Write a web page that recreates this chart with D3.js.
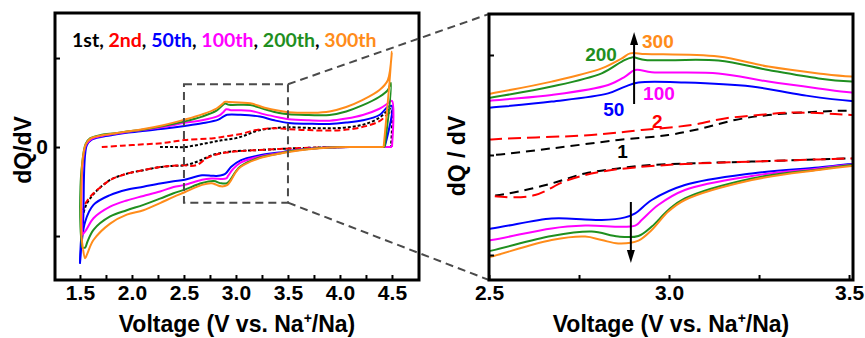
<!DOCTYPE html>
<html>
<head>
<meta charset="utf-8">
<script src="https://cdn.jsdelivr.net/npm/d3@7/dist/d3.min.js"></script>
<style>
  body { margin: 0; background: #fff; }
  text { font-family: "Liberation Sans", Arial, sans-serif; font-weight: bold; }
</style>
</head>
<body>
<svg id="chart" width="865" height="338"></svg>
<script>
// Cycle names and colours
const cycles = ["1st", "2nd", "50th", "100th", "200th", "300th"];
const cycleColors = ["#000000", "#ff0000", "#0000ff", "#ff00ff", "#1f8f1f", "#ff8c1a"];
const zoomLabels = ["1", "2", "50", "100", "200", "300"];

// [voltage, dQ/dV]; charge = upper branch, discharge = lower branch
const charge1 = [[2.27,0.0],[2.4,0.0],[2.507,0.0],[2.674,0.033],[2.859,0.075],[2.998,0.10],[3.091,0.133],[3.183,0.175],[3.276,0.20],[3.415,0.217],[3.507,0.222],[3.7,0.215],[3.9,0.21],[4.1,0.225],[4.25,0.26],[4.38,0.33],[4.45,0.40],[4.49,0.43],[4.49,0.0]];
const discharge1 = [[4.49,0.0],[4.1,0.0],[3.8,-0.005],[3.507,-0.017],[3.23,-0.033],[2.952,-0.05],[2.859,-0.067],[2.767,-0.092],[2.674,-0.142],[2.582,-0.183],[2.507,-0.205],[2.4,-0.212],[2.27,-0.225],[2.11,-0.26],[1.95,-0.30],[1.79,-0.37],[1.63,-0.53],[1.56,-0.65],[1.53,-0.76]];

const charge2 = [[1.71,0.0],[1.9,0.015],[2.11,0.03],[2.3,0.045],[2.507,0.078],[2.785,0.10],[2.924,0.125],[3.063,0.15],[3.155,0.183],[3.248,0.20],[3.341,0.212],[3.433,0.208],[3.507,0.20],[3.7,0.19],[3.9,0.185],[4.1,0.20],[4.25,0.235],[4.38,0.29],[4.45,0.36],[4.49,0.40]];
const discharge2 = [[4.49,0.0],[4.1,0.0],[3.8,-0.005],[3.507,-0.017],[3.415,-0.022],[3.23,-0.033],[3.044,-0.045],[2.906,-0.062],[2.813,-0.083],[2.72,-0.125],[2.628,-0.20],[2.563,-0.212],[2.507,-0.205],[2.4,-0.21],[2.27,-0.225],[2.11,-0.26],[1.95,-0.30],[1.79,-0.37],[1.71,-0.44],[1.63,-0.52],[1.56,-0.62],[1.53,-0.71]];

const charge50 = [[1.50,-1.31],[1.51,-1.05],[1.53,-0.84],[1.565,0.02],[1.61,0.08],[1.71,0.115],[1.84,0.14],[1.95,0.16],[2.1,0.18],[2.3,0.205],[2.507,0.237],[2.674,0.267],[2.831,0.308],[2.878,0.342],[2.915,0.362],[3.044,0.362],[3.23,0.342],[3.369,0.30],[3.507,0.27],[3.7,0.262],[3.9,0.26],[4.06,0.275],[4.22,0.30],[4.38,0.36],[4.46,0.45],[4.50,0.46],[4.43,0.0]];
const discharge50 = [[4.43,0.0],[4.1,0.0],[3.9,-0.005],[3.7,-0.02],[3.507,-0.045],[3.415,-0.062],[3.23,-0.092],[3.044,-0.15],[2.952,-0.225],[2.906,-0.292],[2.878,-0.312],[2.813,-0.325],[2.767,-0.322],[2.674,-0.317],[2.507,-0.367],[2.4,-0.385],[2.27,-0.41],[2.11,-0.446],[1.95,-0.48],[1.79,-0.54],[1.63,-0.65],[1.55,-0.84],[1.50,-1.31]];

const charge100 = [[1.52,-0.99],[1.515,-0.5],[1.525,-0.2],[1.56,0.03],[1.61,0.09],[1.71,0.125],[1.84,0.15],[1.95,0.17],[2.1,0.19],[2.3,0.225],[2.507,0.272],[2.674,0.30],[2.831,0.35],[2.878,0.392],[2.906,0.425],[2.952,0.414],[3.137,0.408],[3.276,0.367],[3.415,0.333],[3.507,0.313],[3.7,0.30],[3.9,0.296],[4.06,0.32],[4.22,0.36],[4.38,0.43],[4.46,0.49],[4.50,0.52],[4.50,0.0]];
const discharge100 = [[4.50,0.0],[4.1,0.0],[3.9,-0.005],[3.7,-0.02],[3.507,-0.047],[3.415,-0.067],[3.23,-0.105],[3.044,-0.175],[2.97,-0.25],[2.924,-0.325],[2.906,-0.353],[2.767,-0.353],[2.674,-0.367],[2.507,-0.425],[2.4,-0.45],[2.27,-0.50],[2.11,-0.55],[1.95,-0.60],[1.79,-0.67],[1.63,-0.80],[1.56,-0.93],[1.52,-0.99]];

const charge200 = [[1.52,-1.13],[1.505,-0.9],[1.505,-0.45],[1.52,-0.2],[1.555,0.035],[1.60,0.10],[1.70,0.135],[1.84,0.155],[1.95,0.175],[2.1,0.195],[2.3,0.235],[2.507,0.288],[2.674,0.342],[2.813,0.408],[2.869,0.467],[2.897,0.488],[2.934,0.475],[3.137,0.472],[3.276,0.425],[3.415,0.383],[3.507,0.367],[3.7,0.36],[3.9,0.36],[4.06,0.40],[4.22,0.47],[4.38,0.565],[4.46,0.64],[4.49,0.72],[4.43,0.0]];
const discharge200 = [[4.43,0.0],[4.1,0.0],[3.9,-0.005],[3.7,-0.022],[3.507,-0.05],[3.415,-0.072],[3.23,-0.117],[3.044,-0.217],[2.998,-0.275],[2.952,-0.358],[2.915,-0.405],[2.859,-0.408],[2.785,-0.383],[2.674,-0.405],[2.507,-0.478],[2.4,-0.52],[2.27,-0.58],[2.11,-0.65],[1.95,-0.71],[1.79,-0.78],[1.63,-0.93],[1.57,-1.07],[1.55,-1.13],[1.52,-1.13]];

const charge300 = [[1.53,-1.15],[1.515,-1.0],[1.515,-0.35],[1.525,-0.15],[1.555,0.03],[1.60,0.095],[1.70,0.13],[1.84,0.155],[1.95,0.175],[2.1,0.2],[2.3,0.245],[2.507,0.308],[2.674,0.367],[2.813,0.433],[2.869,0.483],[2.892,0.508],[2.934,0.505],[3.137,0.492],[3.276,0.442],[3.415,0.408],[3.507,0.392],[3.74,0.385],[3.9,0.40],[4.06,0.45],[4.22,0.53],[4.38,0.64],[4.46,0.75],[4.50,1.07],[4.42,0.0]];
const discharge300 = [[4.42,0.0],[4.1,0.0],[3.9,-0.005],[3.7,-0.025],[3.507,-0.055],[3.415,-0.075],[3.23,-0.125],[3.044,-0.225],[2.998,-0.283],[2.952,-0.375],[2.915,-0.428],[2.859,-0.442],[2.813,-0.425],[2.767,-0.408],[2.674,-0.425],[2.507,-0.508],[2.4,-0.56],[2.27,-0.63],[2.11,-0.71],[1.95,-0.76],[1.79,-0.86],[1.63,-1.045],[1.57,-1.20],[1.55,-1.25],[1.53,-1.15]];

// where the cycle numbers sit in the zoomed panel [voltage, dQ/dV]
const zoomLabelPos = [[2.856,-0.015],[2.953,0.135],[2.817,0.195],[2.928,0.275],[2.767,0.47],[2.925,0.535]];

// Tick values
const leftXTicks = d3.range(1.5, 4.51, 0.25);
const leftYTicks = [-1, 0, 1];
const rightXTicks = [2.5, 2.75, 3.0, 3.25, 3.5];
const rightYTicks = [-0.5, 0, 0.5];

// Series list built from the arrays above
const branches = [
  [charge1, discharge1], [charge2, discharge2], [charge50, discharge50],
  [charge100, discharge100], [charge200, discharge200], [charge300, discharge300]
];

const svg = d3.select("#chart");

// Scales: left = full window, right = zoomed window
const xLeft = d3.scaleLinear().domain([1.26, 4.76]).range([55, 419]);
const yLeft = d3.scaleLinear().domain([-1.494, 1.506]).range([280, 13]);
const xRight = d3.scaleLinear().domain([2.5, 3.511]).range([489, 853]);
const yRight = d3.scaleLinear().domain([-0.625, 0.705]).range([280, 14]);

// Draws all curves, axes and frame of one panel
function drawPanel(name, x, y, dashes, xTicks, yTicks, xFmt, yFmt) {
  const [x0, x1] = x.range();
  const [y0, y1] = y.range();

  svg.append("clipPath").attr("id", "clip-" + name)
    .append("rect")
    .attr("x", x0).attr("y", y1)
    .attr("width", x1 - x0).attr("height", y0 - y1);

  const line = d3.line()
    .x(d => x(d[0]))
    .y(d => y(d[1]))
    .curve(d3.curveCatmullRom.alpha(0.5));

  const g = svg.append("g").attr("clip-path", `url(#clip-${name})`);
  branches.forEach((pair, i) => {
    pair.forEach(pts => {
      g.append("path")
        .attr("d", line(pts))
        .attr("fill", "none")
        .attr("stroke", cycleColors[i])
        .attr("stroke-width", 2)
        .attr("stroke-dasharray", dashes[i]);
    });
  });

  // axes with inward ticks
  const xAxis = svg.append("g")
    .attr("transform", `translate(0,${y0})`)
    .call(d3.axisBottom(x).tickValues(xTicks).tickSize(-5).tickPadding(5).tickFormat(xFmt));
  const yAxis = svg.append("g")
    .attr("transform", `translate(${x0},0)`)
    .call(d3.axisLeft(y).tickValues(yTicks).tickSize(-5).tickPadding(7).tickFormat(yFmt));
  [xAxis, yAxis].forEach(a => {
    a.select(".domain").remove();
    a.selectAll("line").attr("stroke", "#000").attr("stroke-width", 2);
    a.selectAll("text")
      .attr("fill", "#000")
      .style("font-size", "21px")
      .style("font-family", "'Liberation Sans', Arial, sans-serif")
      .style("font-weight", "bold");
  });

  // frame
  svg.append("rect")
    .attr("x", x0).attr("y", y1)
    .attr("width", x1 - x0).attr("height", y0 - y1)
    .attr("fill", "none")
    .attr("stroke", "#000")
    .attr("stroke-width", 3);
}

const halfFmt = d => (Math.abs(d * 2 - Math.round(d * 2)) < 1e-6 ? d3.format(".1f")(d) : "");

drawPanel("left", xLeft, yLeft, ["3,2", "6,3", null, null, null, null],
  leftXTicks, leftYTicks, halfFmt, d => (d === 0 ? "0" : ""));

// zoom window + connector lines
const zoomBox = {
  x0: xLeft(xRight.domain()[0]), x1: xLeft(xRight.domain()[1] - 0.011),
  y0: yLeft(yRight.domain()[1]), y1: yLeft(yRight.domain()[0])
};
const grey = "#4a4a4a";
svg.append("rect")
  .attr("x", zoomBox.x0).attr("y", zoomBox.y0)
  .attr("width", zoomBox.x1 - zoomBox.x0).attr("height", zoomBox.y1 - zoomBox.y0)
  .attr("fill", "none").attr("stroke", grey).attr("stroke-width", 2)
  .attr("stroke-dasharray", "8,5");
svg.append("line")
  .attr("x1", zoomBox.x1).attr("y1", zoomBox.y0)
  .attr("x2", xRight.range()[0]).attr("y2", yRight.range()[1])
  .attr("stroke", grey).attr("stroke-width", 2).attr("stroke-dasharray", "8,5");
svg.append("line")
  .attr("x1", zoomBox.x1).attr("y1", zoomBox.y1)
  .attr("x2", xRight.range()[0]).attr("y2", yRight.range()[0])
  .attr("stroke", grey).attr("stroke-width", 2).attr("stroke-dasharray", "8,5");

drawPanel("right", xRight, yRight, ["9,6", "13,6", null, null, null, null],
  rightXTicks, rightYTicks, halfFmt, () => "");

// legend in the left panel
const legend = svg.append("text")
  .attr("x", 72).attr("y", 47)
  .style("font-family", "Lato, 'Liberation Sans', sans-serif")
  .style("font-size", "19.5px");
cycles.forEach((c, i) => {
  legend.append("tspan").attr("fill", cycleColors[i]).text(c);
  if (i < cycles.length - 1) legend.append("tspan").attr("fill", "#000").text(", ");
});

// cycle numbers in the zoomed panel
svg.selectAll(".zlabel")
  .data(zoomLabels)
  .enter().append("text")
  .attr("class", "zlabel")
  .attr("x", (d, i) => xRight(zoomLabelPos[i][0]))
  .attr("y", (d, i) => yRight(zoomLabelPos[i][1]))
  .attr("fill", (d, i) => cycleColors[i])
  .style("font-size", "19px")
  .text(d => d);

// arrows: charge peak grows upward, discharge peak grows downward
function arrow(v, from, to) {
  const xa = xRight(v), ya = yRight(from), yb = yRight(to);
  const dir = yb < ya ? -1 : 1;
  svg.append("line")
    .attr("x1", xa).attr("y1", ya).attr("x2", xa).attr("y2", yb - dir * 10)
    .attr("stroke", "#000").attr("stroke-width", 2);
  svg.append("path")
    .attr("d", `M${xa},${yb} L${xa - 4},${yb - dir * 13} L${xa + 4},${yb - dir * 13} Z`)
    .attr("fill", "#000");
}
arrow(2.903, 0.255, 0.615);
arrow(2.894, -0.235, -0.54);

// axis titles
function xTitle(cx) {
  const t = svg.append("text")
    .attr("x", cx).attr("y", 332)
    .attr("text-anchor", "middle")
    .style("font-size", "23px");
  t.append("tspan").text("Voltage (V vs. Na");
  t.append("tspan").attr("dy", -9).style("font-size", "14px").text("+");
  t.append("tspan").attr("dy", 9).text("/Na)");
}
xTitle((xLeft.range()[0] + xLeft.range()[1]) / 2);
xTitle((xRight.range()[0] + xRight.range()[1]) / 2);

svg.append("text")
  .attr("transform", "translate(31,150) rotate(-90)")
  .attr("text-anchor", "middle")
  .style("font-size", "23px")
  .text("dQ/dV");
svg.append("text")
  .attr("transform", "translate(465,156) rotate(-90)")
  .attr("text-anchor", "middle")
  .style("font-size", "23px")
  .text("dQ / dV");
</script>
</body>
</html>
